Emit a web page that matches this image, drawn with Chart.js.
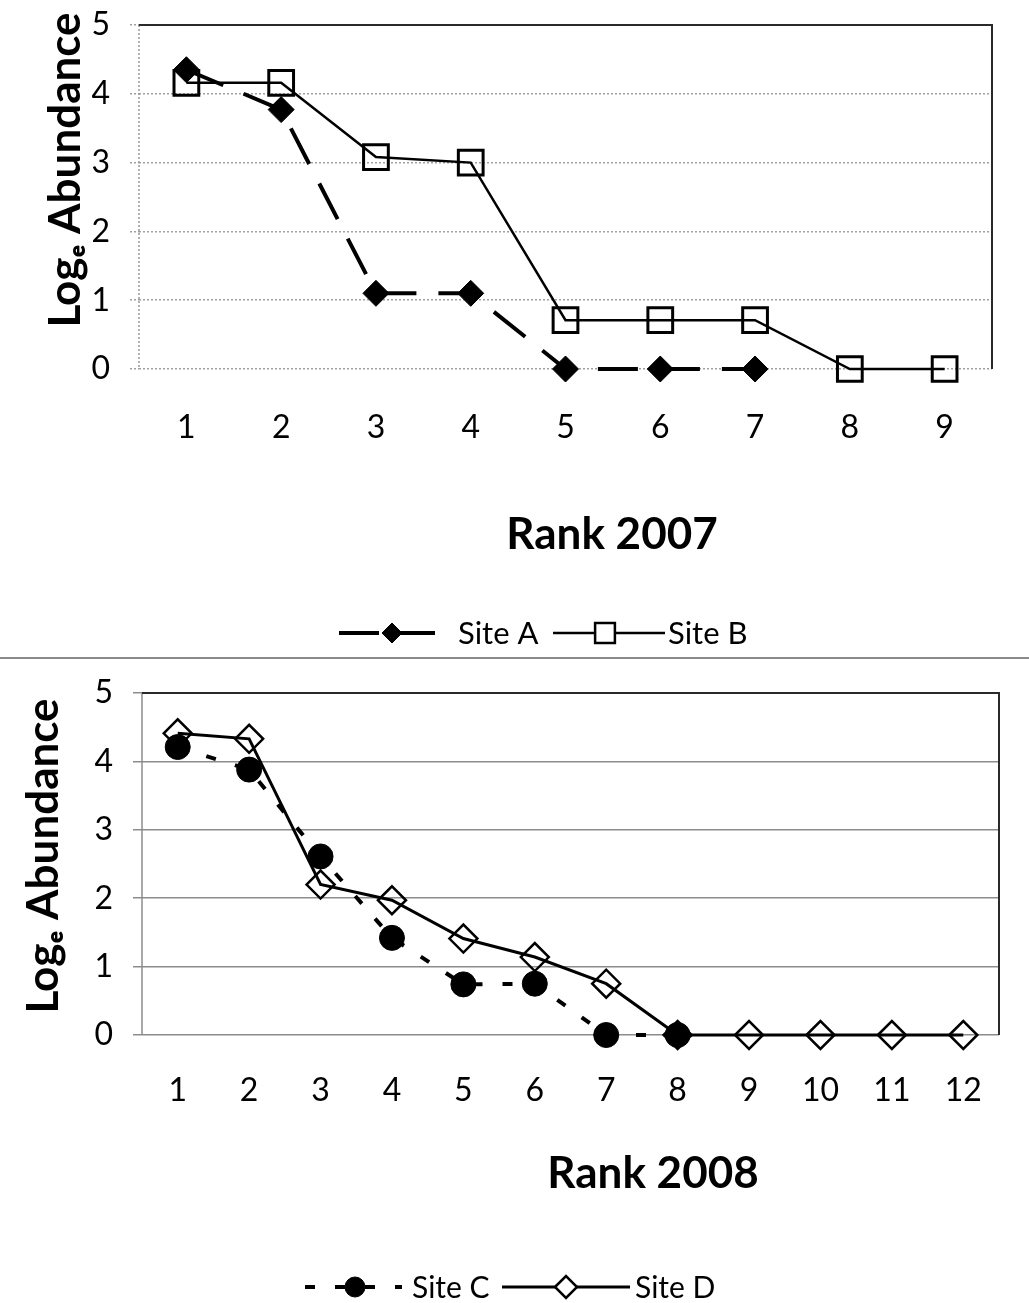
<!DOCTYPE html>
<html><head><meta charset="utf-8">
<script src="https://cdn.jsdelivr.net/npm/chart.js@4.4.0/dist/chart.umd.min.js"></script>
<style>
html,body{margin:0;padding:0;background:#fff;}
#wrap{position:relative;width:1029px;height:1303px;overflow:hidden;}
#box1{position:absolute;left:0;top:0;width:1029px;height:657px;}
#sep{position:absolute;left:0;top:657px;width:1029px;height:0;border-top:2px solid #8a8a8a;}
#box2{position:absolute;left:0;top:660px;width:1029px;height:643px;}
</style></head><body>
<div id="wrap">
  <div id="box1"><canvas id="c1"></canvas></div>
  <div id="sep"></div>
  <div id="box2"><canvas id="c2"></canvas></div>
</div>
<script>
// ---------- data ----------
const ranks2007 = ['1','2','3','4','5','6','7','8','9'];
const siteA = [4.35, 3.77, 1.10, 1.10, 0, 0, 0, null, null];
const siteB = [4.16, 4.16, 3.08, 3.00, 0.71, 0.71, 0.71, 0, 0];
const ranks2008 = ['1','2','3','4','5','6','7','8','9','10','11','12'];
const siteC = [4.21, 3.88, 2.61, 1.42, 0.74, 0.75, 0, 0, null, null, null, null];
const siteD = [4.41, 4.33, 2.20, 1.97, 1.41, 1.14, 0.75, 0, 0, 0, 0, 0];
const yTicks = [0, 1, 2, 3, 4, 5];
const yTitle = 'Logₑ Abundance';
const xTitle2007 = 'Rank 2007';
const xTitle2008 = 'Rank 2008';

const FONT = 'Lato, "Open Sans", "DejaVu Sans", sans-serif';

// ---------- marker drawing for legend ----------
function drawMarker(ctx, style, r, x, y, fill, stroke, bw) {
  ctx.save();
  ctx.setLineDash([]);
  ctx.beginPath();
  if (style === 'rectRot') {
    ctx.moveTo(x - r, y); ctx.lineTo(x, y - r); ctx.lineTo(x + r, y); ctx.lineTo(x, y + r); ctx.closePath();
  } else if (style === 'rect') {
    const s = Math.SQRT1_2 * r; ctx.rect(x - s, y - s, 2 * s, 2 * s);
  } else {
    ctx.arc(x, y, r, 0, Math.PI * 2);
  }
  ctx.fillStyle = fill === 'rgba(255,255,255,0)' ? '#fff' : fill; ctx.fill();
  ctx.lineWidth = bw; ctx.strokeStyle = stroke; ctx.stroke();
  ctx.restore();
}

const decor = {
  id: 'decor',
  beforeDatasetsDraw(chart, args, o) {
    const {ctx, chartArea: a} = chart;
    ctx.save();
    ctx.strokeStyle = o.leftColor; ctx.lineWidth = o.leftWidth; ctx.setLineDash(o.leftDash);
    ctx.beginPath(); ctx.moveTo(a.left, a.top); ctx.lineTo(a.left, a.bottom); ctx.stroke();
    ctx.setLineDash([]);
    ctx.strokeStyle = o.frameColor; ctx.lineWidth = o.frameWidth;
    ctx.beginPath(); ctx.moveTo(a.left, a.top); ctx.lineTo(a.right, a.top); ctx.lineTo(a.right, a.bottom); ctx.stroke();
    ctx.restore();
  },
  afterDraw(chart, args, o) {
    const {ctx} = chart;
    ctx.save();
    ctx.fillStyle = '#000';
    ctx.textAlign = 'center'; ctx.textBaseline = 'middle';
    ctx.font = 'bold ' + o.yTitleSize + 'px ' + FONT;
    ctx.save(); ctx.translate(o.yTitleX, o.yTitleY); ctx.rotate(-Math.PI / 2);
    ctx.fillText(o.yTitle, 0, 0); ctx.restore();
    ctx.font = 'bold ' + o.xTitleSize + 'px ' + FONT;
    ctx.fillText(o.xTitle, o.xTitleX, o.xTitleY);
    ctx.font = o.legendSize + 'px ' + FONT;
    ctx.textAlign = 'left';
    chart.data.datasets.forEach((ds, i) => {
      const it = o.legend[i];
      const y = o.legendY;
      ctx.save();
      ctx.strokeStyle = ds.borderColor; ctx.lineWidth = ds.borderWidth;
      ctx.setLineDash(it.dash || []);
      ctx.beginPath(); ctx.moveTo(it.x, y); ctx.lineTo(it.x + it.w, y); ctx.stroke();
      ctx.restore();
      drawMarker(ctx, ds.pointStyle, it.mr, it.mx, y,
                 ds.pointBackgroundColor, ds.pointBorderColor, Math.min(ds.pointBorderWidth, 2.5));
      ctx.fillStyle = '#000';
      ctx.fillText(ds.label, it.tx, y + 1);
    });
    ctx.restore();
  }
};

function yScale(width, gridOpts) {
  return {
    min: 0, max: 5,
    afterBuildTicks: s => { s.ticks = yTicks.map(v => ({value: v})); },
    afterFit: s => { s.width = width; s.paddingTop = 0; s.paddingBottom = 0; },
    grid: gridOpts,
    border: {display: false, dash: gridOpts.tickBorderDash || []},
    ticks: {padding: 20, color: '#000', font: {family: FONT, size: 32}}
  };
}
function xScale(height, pad) {
  return {
    offset: true,
    afterFit: s => { s.height = height; s.paddingLeft = 0; s.paddingRight = 0; },
    grid: {display: false, drawTicks: false},
    border: {display: false},
    ticks: {padding: pad, color: '#000', maxRotation: 0, autoSkip: false, font: {family: FONT, size: 32}}
  };
}

// ---------- chart 1 ----------
new Chart(document.getElementById('c1'), {
  type: 'line',
  data: {
    labels: ranks2007,
    datasets: [
      {label: 'Site A', data: siteA, borderColor: '#000', borderWidth: 4, borderDash: [40, 22],
       pointStyle: 'rectRot', pointRadius: 13, pointHoverRadius: 13, clip: false,
       pointBackgroundColor: '#000', pointBorderColor: '#000', pointBorderWidth: 1, tension: 0},
      {label: 'Site B', data: siteB, borderColor: '#000', borderWidth: 2.5,
       pointStyle: 'rect', pointRadius: 17.5, pointHoverRadius: 17.5, clip: false,
       pointBackgroundColor: 'rgba(255,255,255,0)', pointBorderColor: '#000', pointBorderWidth: 3, tension: 0}
    ]
  },
  options: {
    responsive: true, maintainAspectRatio: false, animation: false,
    events: [],
    layout: {padding: {left: 0, top: 25, right: 37, bottom: 0}},
    plugins: {
      legend: {display: false}, tooltip: {enabled: false},
      decor: {
        leftColor: '#999', leftWidth: 1.5, leftDash: [2, 2],
        frameColor: '#2a2a2a', frameWidth: 2,
        yTitle: yTitle, yTitleSize: 44, yTitleX: 66, yTitleY: 170,
        xTitle: xTitle2007, xTitleSize: 44, xTitleX: 612, xTitleY: 535,
        legendSize: 31, legendY: 633,
        legend: [{x: 339, w: 96, tx: 458, dash: [40, 22], mx: 392, mr: 10},
                 {x: 553, w: 112, tx: 668, mx: 605, mr: 14}]
      }
    },
    scales: {
      x: xScale(288, 39),
      y: yScale(139, {color: '#a0a0a0', lineWidth: 1.5, tickLength: 9, tickColor: '#a0a0a0', tickWidth: 1.5, tickBorderDash: [2, 2]})
    }
  },
  plugins: [decor]
});

// ---------- chart 2 ----------
new Chart(document.getElementById('c2'), {
  type: 'line',
  data: {
    labels: ranks2008,
    datasets: [
      {label: 'Site C', data: siteC, borderColor: '#000', borderWidth: 4, borderDash: [10, 20],
       pointStyle: 'circle', pointRadius: 12.5, pointHoverRadius: 12.5, clip: false,
       pointBackgroundColor: '#000', pointBorderColor: '#000', pointBorderWidth: 1, tension: 0},
      {label: 'Site D', data: siteD, borderColor: '#000', borderWidth: 3,
       pointStyle: 'rectRot', pointRadius: 14, pointHoverRadius: 14, clip: false,
       pointBackgroundColor: 'rgba(255,255,255,0)', pointBorderColor: '#000', pointBorderWidth: 2.5, tension: 0}
    ]
  },
  options: {
    responsive: true, maintainAspectRatio: false, animation: false,
    events: [],
    layout: {padding: {left: 0, top: 33, right: 30, bottom: 0}},
    plugins: {
      legend: {display: false}, tooltip: {enabled: false},
      decor: {
        leftColor: '#8c8c8c', leftWidth: 1.5, leftDash: [],
        frameColor: '#2a2a2a', frameWidth: 2,
        yTitle: yTitle, yTitleSize: 44, yTitleX: 44, yTitleY: 196,
        xTitle: xTitle2008, xTitleSize: 44, xTitleX: 653, xTitleY: 514,
        legendSize: 30, legendY: 627,
        legend: [{x: 305, w: 97, tx: 412, dash: [10, 20], mx: 355, mr: 10},
                 {x: 502, w: 128, tx: 635, mx: 566, mr: 11}]
      }
    },
    scales: {
      x: xScale(268, 36),
      y: yScale(142, {color: '#8c8c8c', lineWidth: 1.5, tickLength: 9, tickColor: '#8c8c8c', tickWidth: 1.5})
    }
  },
  plugins: [decor]
});
</script>
</body></html>
